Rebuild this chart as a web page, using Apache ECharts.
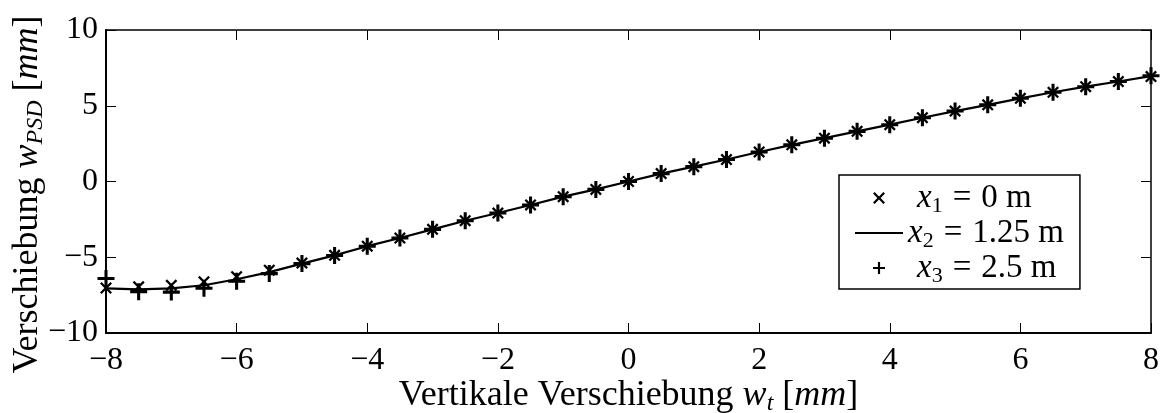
<!DOCTYPE html>
<html>
<head>
<meta charset="utf-8">
<script src="https://cdn.jsdelivr.net/npm/echarts@6/dist/echarts.min.js"></script>
<style>
  html, body { margin: 0; padding: 0; background: #fff; }
  #chart { width: 1160px; height: 413px; }
</style>
</head>
<body>
<div id="chart"></div>
<script>
// Vertical displacement w_t [mm] (abscissa)
const wt = [-8, -7.5, -7, -6.5, -6, -5.5, -5, -4.5, -4, -3.5, -3, -2.5, -2, -1.5, -1, -0.5,
            0, 0.5, 1, 1.5, 2, 2.5, 3, 3.5, 4, 4.5, 5, 5.5, 6, 6.5, 7, 7.5, 8];

// w_PSD at x1 = 0 m
const wX1 = [-7.03, -6.95, -6.85, -6.62, -6.28, -5.85, -5.38, -4.87, -4.27, -3.73, -3.16, -2.59, -2.08, -1.55, -1.00, -0.52,
             0.00, 0.52, 0.98, 1.45, 1.95, 2.42, 2.86, 3.31, 3.75, 4.21, 4.65, 5.06, 5.49, 5.89, 6.26, 6.60, 6.93];

// w_PSD at x2 = 1.25 m
const wX2 = [-7.05, -7.12, -7.05, -6.85, -6.45, -5.98, -5.42, -4.88, -4.27, -3.73, -3.16, -2.59, -2.08, -1.55, -1.00, -0.52,
             0.00, 0.52, 0.98, 1.45, 1.95, 2.42, 2.86, 3.31, 3.75, 4.21, 4.65, 5.06, 5.49, 5.89, 6.26, 6.60, 6.95];

// w_PSD at x3 = 2.5 m
const wX3 = [-6.40, -7.27, -7.30, -7.05, -6.58, -6.08, -5.42, -4.88, -4.27, -3.73, -3.16, -2.59, -2.08, -1.55, -1.00, -0.52,
             0.00, 0.52, 0.98, 1.45, 1.95, 2.42, 2.86, 3.31, 3.75, 4.21, 4.65, 5.06, 5.49, 5.89, 6.26, 6.60, 6.98];

// Legend entries: subscript index and value text
const legendNames = ['x1', 'x2', 'x3'];
const legendSub = ['1', '2', '3'];
const legendValue = ['0 m', '1.25 m', '2.5 m'];

const SERIF = "'Liberation Serif', 'DejaVu Serif', serif";
const FS_TICK = 32;
const FS_NAME = 36;
const FS_LEG = 33;

const CROSS = 'path://M0,1.35L1.35,0L5,3.65L8.65,0L10,1.35L6.35,5L10,8.65L8.65,10L5,6.35L1.35,10L0,8.65L3.65,5Z';
const PLUS = 'path://M4.1,0H5.9V4.1H10V5.9H5.9V10H4.1V5.9H0V4.1H4.1Z';
const LINE_ICON = 'path://M0,0H48V2.2H0Z';

function makeRich(fs) {
  const sub = Math.round(fs * 0.68);
  return {
    r: { fontFamily: SERIF, fontSize: fs, lineHeight: 32, color: '#000' },
    i: { fontFamily: SERIF, fontSize: fs, fontStyle: 'italic', lineHeight: 32, color: '#000' },
    s: { fontFamily: SERIF, fontSize: sub, lineHeight: 20, padding: [16, 0, 0, 0], color: '#000' },
    si: { fontFamily: SERIF, fontSize: sub, fontStyle: 'italic', lineHeight: 20, padding: [16, 0, 0, 0], color: '#000' },
    eq: { fontFamily: SERIF, fontSize: fs, lineHeight: 32, color: '#000', padding: [0, 10, 0, 10] },
    pad: { fontFamily: SERIF, fontSize: fs, fontStyle: 'italic', lineHeight: 32, color: '#000', padding: [0, 0, 0, 9] }
  };
}

const minus = v => String(v).replace('-', '\u2212');

const chart = echarts.init(document.getElementById('chart'), null, { renderer: 'canvas' });

const tickStyle = { show: true, inside: true, length: 10, lineStyle: { color: '#000', width: 1 } };

chart.setOption({
  animation: false,
  backgroundColor: '#fff',
  grid: { left: 106, right: 9, top: 30, bottom: 80, outerBoundsMode: 'none', containLabel: false },
  xAxis: [
    {
      type: 'value', min: -8, max: 8, interval: 2, position: 'bottom',
      axisLine: { show: true, onZero: false, lineStyle: { color: '#000', width: 2 } },
      axisTick: tickStyle,
      splitLine: { show: false },
      axisLabel: { color: '#000', fontFamily: SERIF, fontSize: FS_TICK, margin: 12, formatter: minus },
      name: '{r|Vertikale Verschiebung }{i|w}{si|t}{r| [}{i|mm}{r|]}',
      nameLocation: 'middle', nameGap: 47, nameMoveOverlap: false,
      nameTextStyle: { rich: makeRich(FS_NAME) }
    },
    {
      type: 'value', min: -8, max: 8, interval: 2, position: 'top',
      axisLine: { show: true, onZero: false, lineStyle: { color: '#000', width: 1.5 } },
      axisTick: tickStyle, axisLabel: { show: false }, splitLine: { show: false }
    }
  ],
  yAxis: [
    {
      type: 'value', min: -10, max: 10, interval: 5, position: 'left',
      axisLine: { show: true, onZero: false, lineStyle: { color: '#000', width: 2 } },
      axisTick: tickStyle,
      splitLine: { show: false },
      axisLabel: { color: '#000', fontFamily: SERIF, fontSize: FS_TICK, margin: 8, formatter: minus },
      name: '{r|Verschiebung }{i|w}{si|PSD}{r| [}{i|mm}{r|]}',
      nameLocation: 'middle', nameGap: 62, nameRotate: 90, nameMoveOverlap: false,
      nameTextStyle: { rich: makeRich(FS_NAME), padding: [0, 26, 0, 0] }
    },
    {
      type: 'value', min: -10, max: 10, interval: 5, position: 'right',
      axisLine: { show: true, onZero: false, lineStyle: { color: '#000', width: 1.5 } },
      axisTick: tickStyle, axisLabel: { show: false }, splitLine: { show: false }
    }
  ],
  legend: {
    orient: 'vertical',
    left: 839, top: 175,
    itemWidth: 48, itemHeight: 12, itemGap: -3,
    symbolKeepAspect: true,
    backgroundColor: '#fff',
    borderColor: '#000', borderWidth: 1.5,
    padding: [4, 16, 2, 16],
    selectedMode: false,
    data: [
      { name: legendNames[0], icon: CROSS, itemStyle: { color: '#000' } },
      { name: legendNames[1], icon: LINE_ICON, itemStyle: { color: '#000' } },
      { name: legendNames[2], icon: PLUS, itemStyle: { color: '#000' } }
    ],
    textStyle: { fontFamily: SERIF, fontSize: FS_LEG, color: '#000', rich: makeRich(FS_LEG) },
    formatter: function (name) {
      const k = legendNames.indexOf(name);
      const head = k === 1 ? '{i|x}' : '{pad|x}';
      return head + '{s|' + legendSub[k] + '}{eq|=}{r|' + legendValue[k] + '}';
    }
  },
  series: [
    {
      name: legendNames[1], type: 'line', clip: false, z: 2,
      data: wt.map((x, k) => [x, wX2[k]]),
      symbol: 'none', showSymbol: false,
      lineStyle: { color: '#000', width: 2.2 },
      itemStyle: { color: '#000' }
    },
    {
      name: legendNames[0], type: 'scatter', clip: false, z: 3,
      data: wt.map((x, k) => [x, wX1[k]]),
      symbol: CROSS, symbolSize: 12,
      itemStyle: { color: '#000', opacity: 1 }
    },
    {
      name: legendNames[2], type: 'scatter', clip: false, z: 3,
      data: wt.map((x, k) => [x, wX3[k]]),
      symbol: PLUS, symbolSize: 17,
      itemStyle: { color: '#000', opacity: 1 }
    }
  ]
});
</script>
</body>
</html>
